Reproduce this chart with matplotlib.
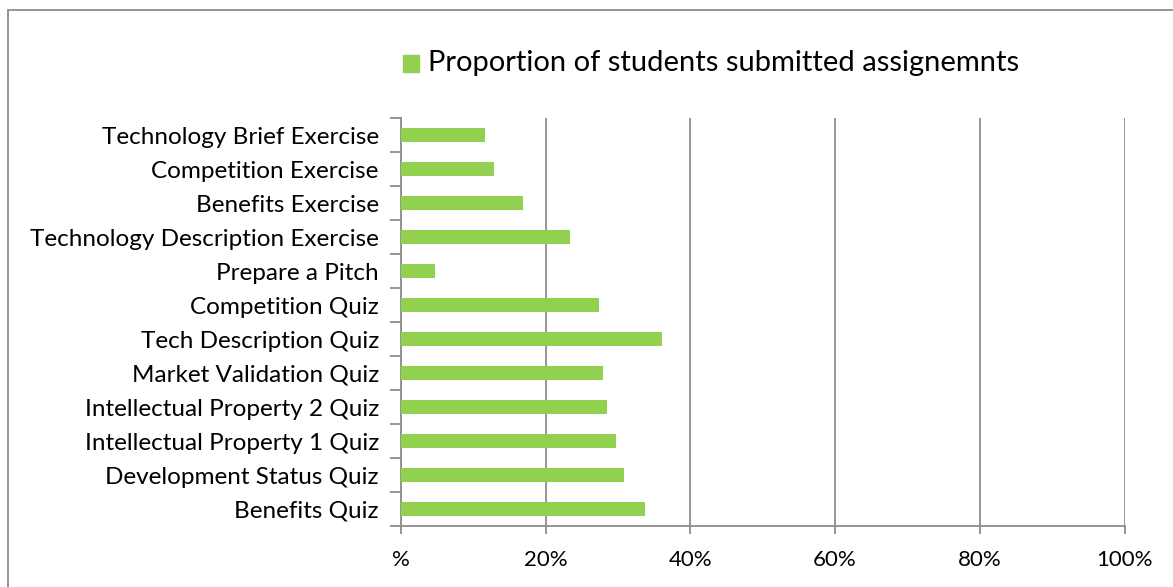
import numpy as np
import matplotlib.pyplot as plt
from matplotlib.patches import Rectangle

plt.rcParams['font.family'] = ['Lato', 'DejaVu Sans']

categories = ['Benefits Quiz', 'Development Status Quiz', 'Intellectual Property 1 Quiz',
              'Intellectual Property 2 Quiz', 'Market Validation Quiz', 'Tech Description Quiz',
              'Competition Quiz', 'Prepare a Pitch', 'Technology Description Exercise',
              'Benefits Exercise', 'Competition Exercise', 'Technology Brief Exercise']
values = [33.7, 30.8, 29.7, 28.5, 27.9, 36.1, 27.3, 4.7, 23.3, 16.9, 12.8, 11.6]
xticks = [0, 20, 40, 60, 80, 100]
xticklabels = ['%', '20%', '40%', '60%', '80%', '100%']
series_name = 'Proportion of students submitted assignemnts'

W, H = 1173, 587
fig = plt.figure(figsize=(W / 100, H / 100), dpi=100)
ax = fig.add_axes([401 / W, 1 - 526 / H, (1124.5 - 401) / W, (526 - 118) / H])

y = np.arange(len(categories))
bars = ax.barh(y, values, height=0.39, color='#92D050', zorder=3, label=series_name)

ax.set_xlim(0, 100)
ax.set_ylim(-0.5, len(categories) - 0.5)
ax.set_xticks(xticks)
ax.set_xticklabels(xticklabels, fontsize=16)
ax.grid(axis='x', color='#8c8c8c', linewidth=1.3, zorder=0)

ax.set_yticks(y)
ax.set_yticklabels(categories, fontsize=17.5)
ax.set_yticks(np.arange(-0.5, len(categories), 1), minor=True)
ax.tick_params(axis='y', which='major', length=0, pad=16)
ax.tick_params(axis='y', which='minor', length=8, color='#8c8c8c', width=1.3)
ax.tick_params(axis='x', length=6, color='#8c8c8c', width=1.3, pad=11)

for s in ['top', 'right']:
    ax.spines[s].set_visible(False)
for s in ['left', 'bottom']:
    ax.spines[s].set_color('#8c8c8c')
    ax.spines[s].set_linewidth(1.3)

# legend
fig.patches.append(Rectangle((403 / W, 1 - 72 / H), 16 / W, 17 / H,
                             transform=fig.transFigure, color='#92D050'))
fig.text(428 / W, 1 - 63 / H, series_name, fontsize=21, va='center', ha='left')

# chart area border
fig.patches.append(Rectangle((8 / W, -0.1), 1.2, 1 - 10 / H + 0.1, transform=fig.transFigure,
                             fill=False, edgecolor='#8c8c8c', linewidth=1.3))

fig.savefig('out.png', dpi=100)
